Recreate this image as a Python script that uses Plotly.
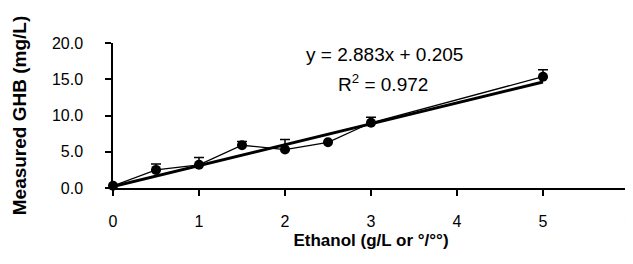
import plotly.graph_objects as go

ethanol = [0, 0.5, 1, 1.5, 2, 2.5, 3, 5]
ghb = [0.3, 2.5, 3.2, 5.9, 5.3, 6.3, 9.0, 15.35]
ghb_err = [0, 0.8, 1.0, 0.5, 1.4, 0, 0.75, 0.95]
slope = 2.883
intercept = 0.205
fit_x = [0, 5]
fit_y = [slope * v + intercept for v in fit_x]
x_ticks = [0, 1, 2, 3, 4, 5, 6]
eq_text = "y = 2.883x + 0.205"
r2_text = "R<sup>2</sup> = 0.972"

fig = go.Figure()
fig.add_trace(go.Scatter(
    x=fit_x, y=fit_y, mode="lines",
    line=dict(color="black", width=3), cliponaxis=False, showlegend=False))
fig.add_trace(go.Scatter(
    x=ethanol, y=ghb, mode="lines+markers",
    line=dict(color="black", width=1.3),
    marker=dict(color="black", size=10),
    error_y=dict(type="data", array=ghb_err, arrayminus=[0]*len(ghb_err),
                 symmetric=False, color="black", thickness=1.5, width=5),
    cliponaxis=False, showlegend=False))

fig.add_annotation(x=3.16, y=1.005, xref="x", yref="paper", text=eq_text,
                   showarrow=False, font=dict(family="Arial, Liberation Sans", size=19, color="black"))
fig.add_annotation(x=3.14, y=0.82, xref="x", yref="paper", text=r2_text,
                   showarrow=False, font=dict(family="Arial, Liberation Sans", size=19, color="black"))

fig.update_layout(
    width=625, height=248,
    margin=dict(l=105, r=4, t=35, b=68),
    paper_bgcolor="white", plot_bgcolor="white",
    font=dict(family="Arial, Liberation Sans", color="black"),
    xaxis=dict(range=[0, 6.0001], tickmode="array", tickvals=x_ticks, showgrid=False, zeroline=False,
               showline=True, linecolor="black", linewidth=1.5, automargin=False,
               ticks="outside", ticklen=6, tickwidth=1.5, tickcolor="black",
               tickfont=dict(size=16), ticklabelstandoff=12, ticklabeloverflow="allow",
               title=dict(text="<b>Ethanol (g/L or °/°°)</b>", font=dict(size=17), standoff=5)),
    yaxis=dict(range=[0, 20], dtick=5, tick0=0, tickformat=".1f", showgrid=False, zeroline=False,
               showline=True, linecolor="black", linewidth=1.5, automargin=False,
               ticks="outside", ticklen=6, tickwidth=1.5, tickcolor="black",
               tickfont=dict(size=16), ticklabelstandoff=19,
               title=dict(text="<b>Measured GHB (mg/L)</b>", font=dict(size=19), standoff=20)),
)

fig.write_html("out.html")
